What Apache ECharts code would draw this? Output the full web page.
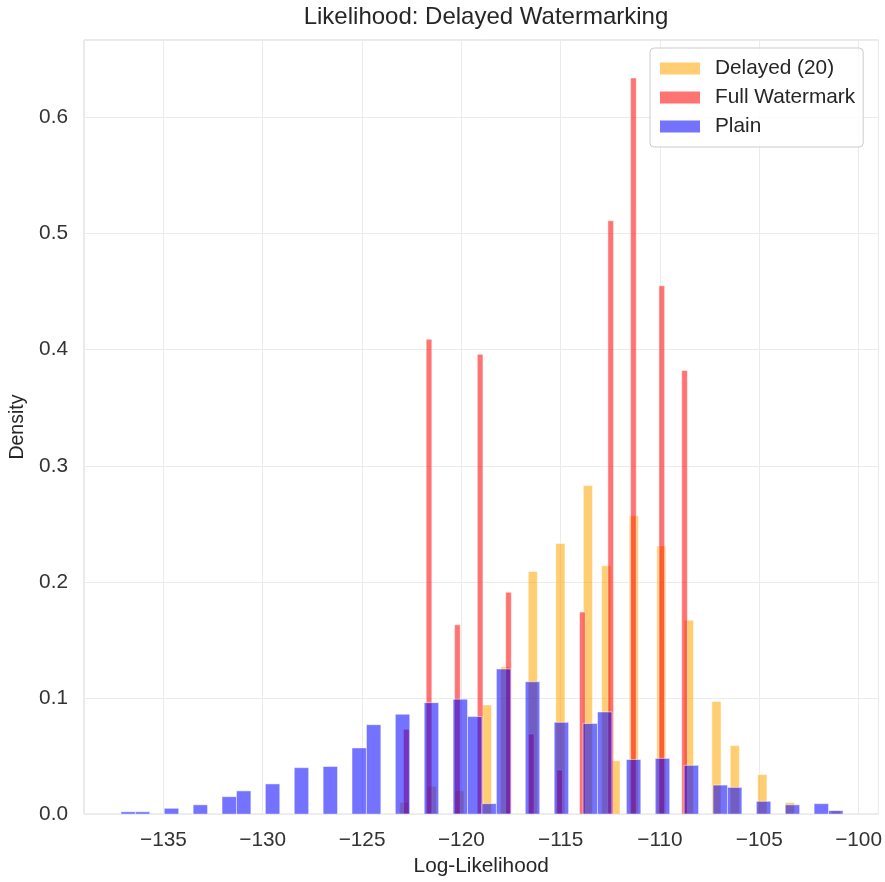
<!DOCTYPE html>
<html>
<head>
<meta charset="utf-8">
<script src="https://cdn.jsdelivr.net/npm/echarts@6/dist/echarts.min.js"></script>
<style>
html,body{margin:0;padding:0;background:#fff;}
#chart{width:885px;height:882px;}
</style>
</head>
<body>
<div id="chart"></div>
<script>
// ---- Data ----
const seriesNames = ['Delayed (20)', 'Full Watermark', 'Plain'];

// Delayed (20): 50 bins
const delayedBinStart = -124.03;
const delayedBinWidth = 0.4623;
const delayedDensity = [
  0, 0, 0.010, 0, 0, 0.024, 0, 0, 0.020, 0,
  0, 0.094, 0, 0.127, 0, 0, 0.209, 0, 0, 0.233,
  0, 0, 0.283, 0, 0.214, 0.046, 0, 0.257, 0, 0,
  0.231, 0, 0, 0.167, 0, 0, 0.097, 0, 0.059, 0,
  0, 0.034, 0, 0, 0.010, 0, 0, 0, 0, 0.003
];

// Full Watermark: 50 bins
const fullBinStart = -122.915;
const fullBinWidth = 0.2859;
const fullDensity = [
  0.073, 0, 0, 0, 0.409, 0, 0, 0, 0, 0.163,
  0, 0, 0, 0.396, 0, 0, 0, 0, 0.191, 0,
  0, 0, 0.069, 0, 0, 0, 0, 0.038, 0, 0,
  0, 0.174, 0, 0, 0, 0, 0.511, 0, 0, 0,
  0.634, 0, 0, 0, 0, 0.455, 0, 0, 0, 0.382
];

// Plain: 50 bins
const plainBinStart = -137.14;
const plainBinWidth = 0.7271;
const plainDensity = [
  0.002, 0.002, 0, 0.005, 0, 0.008, 0, 0.015, 0.020, 0,
  0.026, 0, 0.040, 0, 0.041, 0, 0.057, 0.077, 0, 0.086,
  0, 0.096, 0, 0.099, 0.084, 0.009, 0.125, 0, 0.114, 0,
  0.079, 0, 0.078, 0.088, 0, 0.047, 0, 0.048, 0, 0.042,
  0, 0.025, 0.023, 0, 0.011, 0, 0.008, 0, 0.009, 0.003
];

const xTickValues = [-135, -130, -125, -120, -115, -110, -105, -100];
const yTickValues = [0.0, 0.1, 0.2, 0.3, 0.4, 0.5, 0.6];

// ---- Chart ----
const colors = ['rgba(255,165,0,0.55)', 'rgba(255,0,0,0.55)', 'rgba(0,0,255,0.55)'];
const FONT = '"Liberation Sans", Arial, sans-serif';
const FS = 20.8;

function histSeries(name, color, start, width, values) {
  const data = [];
  values.forEach((v, i) => {
    if (v > 0) data.push([start + i * width, start + (i + 1) * width, v]);
  });
  return {
    name: name,
    type: 'custom',
    clip: true,
    itemStyle: { color: color },
    encode: { x: [0, 1], y: 2 },
    data: data,
    renderItem: function (params, api) {
      const p0 = api.coord([api.value(0), api.value(2)]);
      const p1 = api.coord([api.value(1), 0]);
      return {
        type: 'rect',
        shape: { x: p0[0], y: p0[1], width: p1[0] - p0[0], height: p1[1] - p0[1] },
        style: { fill: color, stroke: 'rgba(255,255,255,0.5)', lineWidth: 1 }
      };
    }
  };
}

const chart = echarts.init(document.getElementById('chart'), null, { renderer: 'canvas' });
chart.setOption({
  animation: false,
  backgroundColor: '#ffffff',
  title: {
    text: 'Likelihood: Delayed Watermarking',
    left: 481,
    textAlign: 'center',
    top: 0,
    textStyle: { fontFamily: FONT, fontSize: 24, fontWeight: 'normal', color: '#262626' }
  },
  legend: {
    orient: 'vertical',
    left: 650,
    top: 48,
    padding: [10, 8, 10, 10],
    itemGap: 8,
    itemWidth: 40,
    itemHeight: 12,
    icon: 'rect',
    backgroundColor: 'rgba(255,255,255,0.85)',
    borderColor: '#cccccc',
    borderWidth: 1,
    borderRadius: 4,
    itemStyle: { borderWidth: 0 },
    textStyle: { fontFamily: FONT, fontSize: FS, color: '#262626', padding: [0, 0, 0, 10] },
    data: seriesNames
  },
  grid: {
    left: 84, right: 6, top: 40, bottom: 64,
    show: true, borderColor: '#d4d4d4', borderWidth: 1
  },
  xAxis: {
    type: 'value',
    min: -139,
    max: -99,
    splitNumber: 8,
    name: 'Log-Likelihood',
    nameLocation: 'middle',
    nameGap: 33,
    nameTextStyle: { fontFamily: FONT, fontSize: FS, color: '#262626' },
    axisLine: { show: false },
    axisTick: { show: false },
    axisLabel: {
      margin: 16,
      fontFamily: FONT, fontSize: FS, color: '#333333',
      formatter: function (v) {
        return xTickValues.indexOf(v) >= 0 ? '\u2212' + Math.abs(v) : '';
      }
    },
    splitLine: { lineStyle: { color: '#ebebeb', width: 1 } }
  },
  yAxis: {
    type: 'value',
    min: 0,
    max: 0.6667,
    interval: 0.1,
    name: 'Density',
    nameLocation: 'middle',
    nameGap: 56,
    nameTextStyle: { fontFamily: FONT, fontSize: 19.5, color: '#262626' },
    axisLine: { show: false },
    axisTick: { show: false },
    axisLabel: {
      margin: 16,
      fontFamily: FONT, fontSize: FS, color: '#333333',
      formatter: function (v) {
        for (const t of yTickValues) { if (Math.abs(v - t) < 1e-6) return t.toFixed(1); }
        return '';
      }
    },
    splitLine: { lineStyle: { color: '#ebebeb', width: 1 } }
  },
  series: [
    histSeries(seriesNames[0], colors[0], delayedBinStart, delayedBinWidth, delayedDensity),
    histSeries(seriesNames[1], colors[1], fullBinStart, fullBinWidth, fullDensity),
    histSeries(seriesNames[2], colors[2], plainBinStart, plainBinWidth, plainDensity)
  ]
});
</script>
</body>
</html>
